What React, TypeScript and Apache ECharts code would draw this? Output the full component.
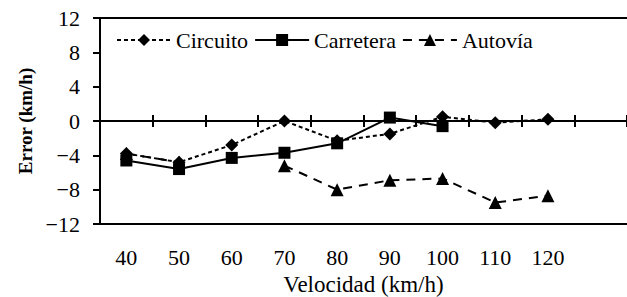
import React, { useEffect, useRef } from 'react';
import * as echarts from 'echarts';

const categories = ['40', '50', '60', '70', '80', '90', '100', '110', '120', ''];
const circuito = [-3.8, -4.8, -2.8, 0, -2.3, -1.5, 0.5, -0.2, 0.2, null];
const carretera = [-4.6, -5.6, -4.3, -3.7, -2.6, 0.4, -0.6, null, null, null];
const autovia = [-3.8, -4.8, null, -5.2, -8.0, -6.9, -6.7, -9.5, -8.7, null];
const yTicks = { min: -12, max: 12, interval: 4 };

const FONT = 'Liberation Serif, serif';
const BLACK = '#000';

export default function App() {
  const ref = useRef<HTMLDivElement>(null);
  useEffect(() => {
    const chart = echarts.init(ref.current!, null, { renderer: 'svg' });
    const axisLineStyle = { color: BLACK, width: 2 };
    const plainX = (position: string, onZero: boolean, ticks: boolean) => ({
      type: 'category',
      data: categories,
      position,
      boundaryGap: true,
      axisLine: { show: true, onZero, onZeroAxisIndex: onZero ? 0 : undefined, lineStyle: axisLineStyle },
      axisTick: { show: ticks, interval: 0, length: 6, lineStyle: { color: BLACK, width: 2 } },
      axisLabel: { show: false, interval: 0 },
      splitLine: { show: false },
    });
    chart.setOption({
      animation: false,
      textStyle: { fontFamily: FONT, color: BLACK },
      grid: { left: 100, right: 0, top: 18, bottom: 73, outerBoundsMode: 'none', containLabel: false },
      legend: {
        left: 116,
        top: 29,
        padding: 0,
        itemWidth: 54,
        itemHeight: 15,
        itemGap: 6,
        textStyle: { fontFamily: FONT, fontSize: 22, color: BLACK },
        data: ['Circuito', 'Carretera', 'Autovía'],
      },
      xAxis: [
        {
          type: 'category',
          data: categories,
          position: 'bottom',
          boundaryGap: true,
          axisLine: { show: true, onZero: false, lineStyle: axisLineStyle },
          axisTick: { show: false },
          axisLabel: { interval: 0, fontFamily: FONT, fontSize: 22, color: BLACK, margin: 22 },
          splitLine: { show: false },
          name: 'Velocidad (km/h)',
          nameLocation: 'middle',
          nameGap: 45,
          nameTextStyle: { fontFamily: FONT, fontSize: 23, color: BLACK },
        },
        plainX('top', false, false),
        plainX('bottom', true, true),
        plainX('top', true, true),
      ],
      yAxis: {
        type: 'value',
        min: yTicks.min,
        max: yTicks.max,
        interval: yTicks.interval,
        axisLine: { show: true, lineStyle: axisLineStyle },
        axisTick: { show: true, length: 7, lineStyle: { color: BLACK, width: 2 } },
        axisLabel: {
          fontFamily: FONT,
          fontSize: 22,
          color: BLACK,
          margin: 20,
          formatter: (v: number) => String(v).replace('-', '\u2212'),
        },
        splitLine: { show: false },
        name: 'Error (km/h)',
        nameLocation: 'middle',
        nameGap: 62,
        nameTextStyle: { fontFamily: FONT, fontSize: 19, fontWeight: 'bold', color: BLACK },
      },
      series: [
        {
          name: 'Circuito',
          type: 'line',
          data: circuito,
          symbol: 'diamond',
          symbolSize: 13,
          lineStyle: { color: BLACK, width: 2, type: [4, 3] },
          itemStyle: { color: BLACK },
          z: 3,
        },
        {
          name: 'Carretera',
          type: 'line',
          data: carretera,
          symbol: 'rect',
          symbolSize: 12,
          lineStyle: { color: BLACK, width: 2, type: 'solid' },
          itemStyle: { color: BLACK },
          z: 4,
        },
        {
          name: 'Autovía',
          type: 'line',
          data: autovia,
          symbol: 'triangle',
          symbolSize: 13,
          lineStyle: { color: BLACK, width: 2, type: [9, 7] },
          itemStyle: { color: BLACK },
          z: 2,
        },
      ],
    });
    return () => chart.dispose();
  }, []);
  return (
    <div
      ref={ref}
      style={{ position: 'fixed', left: 0, top: 0, width: 627, height: 297, background: '#fff' }}
    />
  );
}
